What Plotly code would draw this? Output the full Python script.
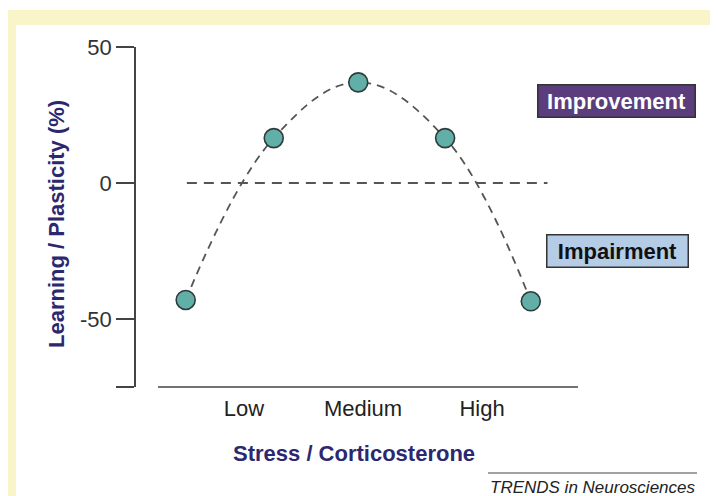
import plotly.graph_objects as go

# ---- data ----
categories = ["Low", "Medium", "High"]
category_pos = [1, 2, 3]
curve_x = [0.51, 1.25, 1.96, 2.69, 3.41]
curve_y = [-43, 16.5, 37, 16.5, -43.5]
baseline_x = [0.52, 3.55]
baseline_y = [0, 0]
y_tickvals = [50, 0, -50, -75]
y_ticktext = ["50", "0", "-50", ""]

OFF = 8  # page body margin
W, H = 718 - OFF, 496 - OFF
L, R, T, B = 136 - OFF, 140, 47 - OFF, 117 - OFF
PW, PH = W - L - R, H - T - B


def px(x):
    return (x - OFF - L) / PW


def py(y):
    return (H - B - (y - OFF)) / PH


fig = go.Figure()

fig.add_trace(go.Scatter(
    x=baseline_x, y=baseline_y, mode="lines",
    line=dict(color="#555555", width=2, dash="10px,7px"),
    hoverinfo="skip", showlegend=False))

fig.add_trace(go.Scatter(
    x=curve_x, y=curve_y, mode="lines+markers",
    line=dict(color="#555555", width=1.8, dash="8px,6px", shape="spline", smoothing=1.1),
    marker=dict(size=19, color="#62AFA7", line=dict(color="#2E3B3B", width=1.6)),
    showlegend=False, cliponaxis=False))

shapes = [
    # yellow frame
    dict(type="rect", xref="paper", yref="paper", x0=px(8), x1=px(730), y0=py(510), y1=py(10),
         fillcolor="#FAF5C9", line=dict(width=0), layer="below"),
    dict(type="rect", xref="paper", yref="paper", x0=px(16), x1=px(730), y0=py(510), y1=py(25),
         fillcolor="#FFFFFF", line=dict(width=0), layer="below"),
    # x axis line
    dict(type="line", xref="paper", yref="paper", x0=px(158), x1=px(578), y0=0, y1=0,
         line=dict(color="#444444", width=1.6)),
    # line above source
    dict(type="line", xref="paper", yref="paper", x0=px(488), x1=px(697), y0=py(473), y1=py(473),
         line=dict(color="#444444", width=1)),
]

common = dict(xref="paper", yref="paper", showarrow=False, xanchor="center", yanchor="middle")
annotations = [
    dict(text="<b>Improvement</b>", x=px(616), y=py(101),
         font=dict(family="Arial", size=22, color="white"),
         bgcolor="#5B3D7D", bordercolor="#333333", borderwidth=1.5, width=154, height=29, **common),
    dict(text="<b>Impairment</b>", x=px(617), y=py(251),
         font=dict(family="Arial", size=22, color="#111111"),
         bgcolor="#B5CCE7", bordercolor="#333333", borderwidth=1.5, width=138, height=29, **common),
    dict(text="<b>Learning / Plasticity (%)</b>", x=px(57), y=py(224), textangle=-90,
         font=dict(family="Arial", size=22, color="#2B2870"), **common),
    dict(text="<b>Stress / Corticosterone</b>", x=px(354), y=py(453),
         font=dict(family="Arial", size=22, color="#2B2870"), **common),
    dict(text="<i>TRENDS in Neurosciences</i>", x=px(593), y=py(487),
         font=dict(family="Arial", size=17, color="#222222"), **common),
]

fig.update_layout(
    width=W, height=H,
    margin=dict(l=L, r=R, t=T, b=B, pad=0),
    paper_bgcolor="white", plot_bgcolor="rgba(0,0,0,0)",
    shapes=shapes, annotations=annotations,
    xaxis=dict(range=[1 - (244 - 136) / 119, 3 + (578 - 482) / 119], tickvals=category_pos,
               ticktext=categories, showgrid=False, zeroline=False, showline=False,
               ticks="", ticklabelstandoff=6,
               tickfont=dict(family="Arial", size=22, color="#222222")),
    yaxis=dict(range=[-75, 50], tickvals=y_tickvals, ticktext=y_ticktext,
               showgrid=False, zeroline=False, showline=True, linecolor="#444444", linewidth=1.6,
               ticks="outside", ticklen=18, tickwidth=1.6, tickcolor="#444444",
               tickfont=dict(family="Arial", size=22, color="#333333")),
)

fig.write_html("out.html")
